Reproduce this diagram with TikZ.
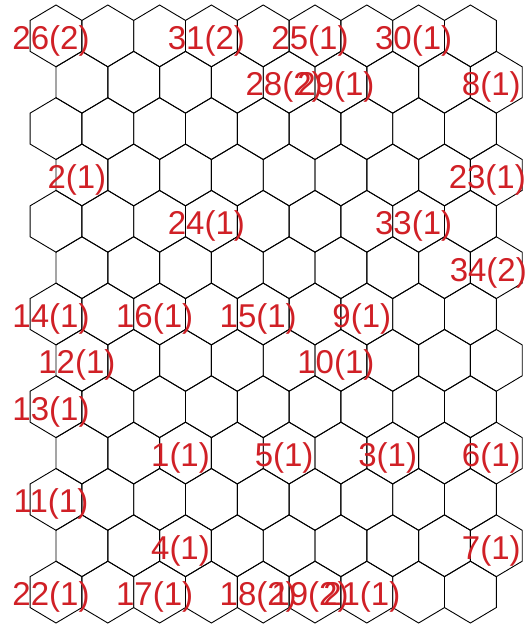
\documentclass[tikz,border=0pt]{standalone}
\usepackage{fontspec}
\setmainfont{Liberation Sans}
\usetikzlibrary{positioning,calc}
\definecolor{labelred}{RGB}{208,32,38}
\tikzset{
  hexcell/.style={draw=black,line width=0.9pt},
  cnt/.style={text=labelred,font=\fontsize{33}{33}\selectfont,inner sep=0pt,xshift=-5pt,yshift=-5pt}
}

\begin{document}
\begin{tikzpicture}[x=1pt,y=-1pt]
\useasboundingbox (0,0) rectangle (528,626);
% hexagon grid: 13 rows of 9 cells, even rows shifted by half a cell
\foreach \r in {1,...,13}{
  \foreach \c in {1,...,9}{
    \pgfmathsetmacro{\cx}{56+51.8*(\c-1)+25.9*(1-mod(\r,2))}
    \pgfmathsetmacro{\cy}{35.9+46.35*(\r-1)}
    \coordinate (h-\r-\c) at (\cx,\cy);
    \draw[hexcell,shift={(\cx,\cy)}] (0,-30.9) -- (25.9,-15.45) -- (25.9,15.45)
      -- (0,30.9) -- (-25.9,15.45) -- (-25.9,-15.45) -- cycle;
  }
}
% counts
\node[cnt] (l26) at (h-1-1) {26(2)};
\node[cnt] (l31) at (h-1-4) {31(2)};
\node[cnt] (l25) at (h-1-6) {25(1)};
\node[cnt] (l30) at (h-1-8) {30(1)};
\node[cnt] (l28) at (h-2-5) {28(2)};
\node[cnt] (l29) at (h-2-6) {29(1)};
\node[cnt] (l8) at (h-2-9) {8(1)};
\node[cnt] (l2) at (h-4-1) {2(1)};
\node[cnt,xshift=-4pt] (l23) at (h-4-9) {23(1)};
\node[cnt] (l24) at (h-5-4) {24(1)};
\node[cnt] (l33) at (h-5-8) {33(1)};
\node[cnt,xshift=-3pt] (l34) at (h-6-9) {34(2)};
\node[cnt] (l14) at (h-7-1) {14(1)};
\node[cnt] (l16) at (h-7-3) {16(1)};
\node[cnt] (l15) at (h-7-5) {15(1)};
\node[cnt] (l9) at (h-7-7) {9(1)};
\node[cnt] (l12) at (h-8-1) {12(1)};
\node[cnt] (l10) at (h-8-6) {10(1)};
\node[cnt] (l13) at (h-9-1) {13(1)};
\node[cnt] (l1) at (h-10-3) {1(1)};
\node[cnt] (l5) at (h-10-5) {5(1)};
\node[cnt] (l3) at (h-10-7) {3(1)};
\node[cnt] (l6) at (h-10-9) {6(1)};
\node[cnt] (l11) at (h-11-1) {11(1)};
\node[cnt] (l4) at (h-12-3) {4(1)};
\node[cnt] (l7) at (h-12-9) {7(1)};
\node[cnt] (l22) at (h-13-1) {22(1)};
\node[cnt] (l17) at (h-13-3) {17(1)};
\node[cnt] (l18) at (h-13-5) {18(2)};
\node[cnt] (l19) at (h-13-6) {19(2)};
\node[cnt] (l21) at (h-13-7) {21(1)};
\end{tikzpicture}
\end{document}
